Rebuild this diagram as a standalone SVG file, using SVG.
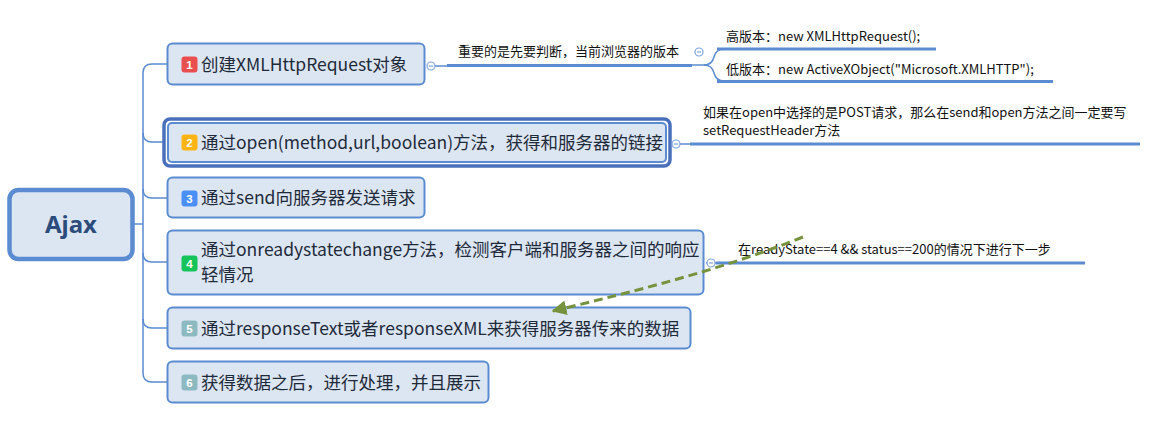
<svg xmlns="http://www.w3.org/2000/svg" width="1167" height="443" viewBox="0 0 1167 443">
<style>
.node{fill:#dce6f2;stroke:#5b8bd0;stroke-width:2}
.t{font-family:"Microsoft YaHei","Noto Sans CJK SC","Noto Sans",sans-serif;font-size:17.5px;fill:#1e2a3a}
.s{font-family:"Microsoft YaHei","Noto Sans CJK SC","Noto Sans",sans-serif;font-size:13px;fill:#111}
.b{font-family:"Liberation Sans",Arial,sans-serif;font-size:11.5px;font-weight:bold;fill:#fff;text-anchor:middle}
.ln{fill:none;stroke:#5b8bd0;stroke-width:1.5}
.th{fill:none;stroke:#5b8bd0;stroke-width:3}
.col{fill:#fff;stroke:#7da3db;stroke-width:1.2}
.cm{stroke:#7da3db;stroke-width:1.2}
</style>
<defs>
<marker id="arr" viewBox="0 0 10 10" refX="9" refY="5" markerWidth="5" markerHeight="5" orient="auto">
<path d="M0,0 L10,5 L0,10 z" fill="#76923c"/>
</marker>
</defs>
<g id="connectors">
<path class="ln" d="M133,224 H143"/>
<path class="ln" d="M167,64 H152 Q143,64 143,73 V373 Q143,382 152,382 H167"/>
<path class="ln" d="M143,133 Q143,142 152,142 H164"/>
<path class="ln" d="M143,189 Q143,198 152,198 H167"/>
<path class="ln" d="M143,253 Q143,262 152,262 H167"/>
<path class="ln" d="M143,319 Q143,328 152,328 H167"/>
<path class="ln" d="M427,66 H447"/>
<path class="th" d="M447,65.5 H692"/>
<path class="ln" d="M692,65 H704 Q712,65 714,57 Q716,49 724,49 H730"/>
<path class="ln" d="M704,65 Q712,65 714,73 Q716,81 724,81 H730"/>
<path class="th" d="M717,49 H936"/>
<path class="th" d="M717,81.5 H1053"/>
<path class="ln" d="M672,144 H690"/>
<path class="th" d="M690,144 H1140"/>
<path class="ln" d="M706,263 H716"/>
<path class="th" d="M716,263 H1085"/>
</g>
<g id="root">
<rect x="9.5" y="190" width="123" height="69" rx="9" fill="#dce6f2" stroke="#5b8bd0" stroke-width="4.5"/>
<text x="71" y="233" text-anchor="middle" font-family="'Noto Sans','DejaVu Sans',sans-serif" font-size="24" font-weight="bold" fill="#2c4d7c">Ajax</text>
</g>
<g id="n1">
<rect class="node" x="167.5" y="43.5" width="257" height="41" rx="5"/>
<rect x="181.5" y="56.5" width="16" height="16" rx="3" fill="#ea4f4f"/>
<text class="b" x="189.5" y="68.5">1</text>
<text class="t" x="201" y="70.5">创建XMLHttpRequest对象</text>
<circle class="col" cx="431" cy="66" r="4"/><path class="cm" d="M429,66 H433"/>
</g>
<g id="n1a">
<text class="s" x="458" y="56">重要的是先要判断，当前浏览器的版本</text>
<circle class="col" cx="699" cy="52" r="4"/><path class="cm" d="M697,52 H701"/>
</g>
<g id="n1b"><text class="s" x="726" y="41">高版本：new XMLHttpRequest();</text></g>
<g id="n1c"><text class="s" x="726" y="74">低版本：new ActiveXObject("Microsoft.XMLHTTP");</text></g>
<g id="n2">
<rect x="164" y="119" width="506" height="47" rx="6" fill="none" stroke="#4a70bc" stroke-width="3.5"/>
<rect class="node" x="168" y="123" width="498" height="39" rx="4" stroke-width="1.5"/>
<rect x="181.5" y="134.5" width="16" height="16" rx="3" fill="#fbb413"/>
<text class="b" x="189.5" y="146.5">2</text>
<text class="t" x="201" y="148.5">通过open(method,url,boolean)方法，获得和服务器的链接</text>
<circle class="col" cx="676" cy="144" r="4"/><path class="cm" d="M674,144 H678"/>
</g>
<g id="n2a">
<text class="s" x="703" y="117">如果在open中选择的是POST请求，那么在send和open方法之间一定要写</text>
<text class="s" x="703" y="135">setRequestHeader方法</text>
</g>
<g id="n3">
<rect class="node" x="167.5" y="177.5" width="257" height="40" rx="5"/>
<rect x="181.5" y="190.5" width="16" height="16" rx="3" fill="#4a8ff5"/>
<text class="b" x="189.5" y="202.5">3</text>
<text class="t" x="201" y="204">通过send向服务器发送请求</text>
</g>
<g id="n4">
<rect class="node" x="167.5" y="230.5" width="536" height="64" rx="5"/>
<rect x="181.5" y="255.5" width="16" height="16" rx="3" fill="#14c45a"/>
<text class="b" x="189.5" y="267.5">4</text>
<text class="t" x="201" y="256">通过onreadystatechange方法，检测客户端和服务器之间的响应</text>
<text class="t" x="201" y="281">轻情况</text>
<circle class="col" cx="711" cy="263" r="4"/><path class="cm" d="M709,263 H713"/>
</g>
<g id="n4a"><text class="s" x="738" y="254">在readyState==4 &amp;&amp; status==200的情况下进行下一步</text></g>
<g id="n5">
<rect class="node" x="167.5" y="307.5" width="523" height="41" rx="5"/>
<rect x="181.5" y="320.5" width="16" height="16" rx="3" fill="#8dbac0"/>
<text class="b" x="189.5" y="332.5">5</text>
<text class="t" x="201" y="334.5">通过responseText或者responseXML来获得服务器传来的数据</text>
</g>
<g id="n6">
<rect class="node" x="167.5" y="361.5" width="321" height="41" rx="5"/>
<rect x="181.5" y="374.5" width="16" height="16" rx="3" fill="#8dbac0"/>
<text class="b" x="189.5" y="386.5">6</text>
<text class="t" x="201" y="388.5">获得数据之后，进行处理，并且展示</text>
</g>
<g id="relation">
<path d="M803,237 C720,270 640,290 553,311" fill="none" stroke="#76923c" stroke-width="3" stroke-dasharray="9,5" marker-end="url(#arr)"/>
</g>
</svg>
